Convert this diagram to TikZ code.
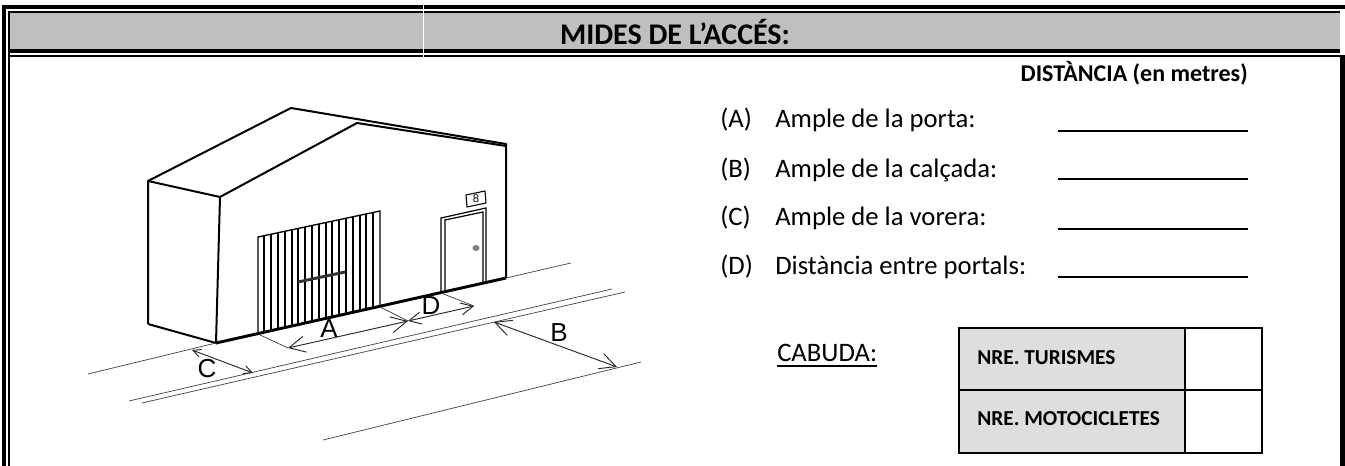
\documentclass[tikz,border=0pt]{standalone}
\usepackage{xcolor}
\usepackage{fontspec}
\setmainfont{Carlito}
\newfontfamily\plainfont{Liberation Sans}
\usepackage{tikz}
\usetikzlibrary{arrows.meta}
\definecolor{bandgray}{RGB}{191,191,191}
\definecolor{cellgray}{RGB}{222,222,222}
\definecolor{thingray}{RGB}{70,70,70}
\tikzset{
  wall/.style={line width=1.5pt},
  road/.style={draw=thingray,line width=0.55pt},
  dimline/.style={draw=black!85,line width=0.7pt,{Straight Barb[length=#1,width=#1]}-{Straight Barb[length=#1,width=#1]}},
  extline/.style={draw=thingray,line width=0.55pt},
  letter/.style={inner sep=0pt,font=\plainfont\fontsize{19.5}{21}\selectfont},
  formtext/.style={anchor=west,inner sep=0pt,font=\fontsize{20}{22}\selectfont},
  celltext/.style={anchor=west,inner sep=0pt,font=\bfseries\fontsize{16}{18}\selectfont},
}
\begin{document}
\begin{tikzpicture}[x=0.75pt,y=0.75pt,yscale=-1,xscale=1]
        \useasboundingbox (0,0) rectangle (1345,466);
        % frame
        \fill [bandgray] (10,13) rectangle (1340,49);
        \fill (2,5) rectangle (1345,9);
        \fill (2,5) rectangle (6,466);
        \fill (8,11) rectangle (1340,13);
        \fill (8,11) rectangle (10,466);
        \fill (8,49) rectangle (1340,53);
        \fill (8,55) rectangle (1345,57);
        \fill (1340,55) rectangle (1345,466);
        \fill [white] (423,5) rectangle (424,57);
        \node (title) [inner sep=0pt,font=\bfseries\fontsize{22.5}{24}\selectfont] at (675,32) {MIDES DE L’ACCÉS:};
        % building
        \draw [wall,line join=round] (148,324) -- (148,181) -- (291,108) -- (506,144) -- (506,278);
        \draw [wall,line join=round] (148,181) -- (220,197) -- (357,123) -- (506,146);
        \draw [wall] (220,197) -- (216,343) -- (148,324);
        \draw [line width=2.2pt] (216,343) -- (506,278);
        % gate
        \draw [line width=1pt] (258,332) -- (258,237) -- (380,211) -- (380,307);
        \foreach \gx in {264,271,278,285,292,298,305,312,319,326,332,339,346,353,360,366,373}
          \draw [line width=0.9pt] (\gx,{237-(\gx-258)*26/122}) -- (\gx,{332-(\gx-258)*25/122});
        \draw [line width=2.2pt,black!80] (298,282) -- (345,272);
        % door
        \draw [line width=0.9pt] (441,291) -- (441,218) -- (486,208) -- (486,281);
        \draw [line width=0.9pt] (445,290) -- (445,220) -- (483,212) -- (483,282);
        \draw [line width=0.8pt] (466,195) -- (485,191) -- (486,203) -- (467,207) -- cycle;
        \node (number) [inner sep=0pt,font=\plainfont\fontsize{8.5}{9}\selectfont] at (476,199) {8};
        \fill [black!50] (476,248) ellipse (3.5 and 3);
        % road
        \draw [road] (88,374) -- (216,343);
        \draw [road] (506,278) -- (571,263);
        \draw [road] (129,401) -- (612,289);
        \draw [road] (142,403) -- (625,292);
        \draw [road] (323,440) -- (641,362);
        % dimensions
        \coordinate (cA) at (192,350);
        \coordinate (cB) at (253,373);
        \coordinate (aA) at (288,348);
        \coordinate (aB) at (408,321);
        \coordinate (dB) at (474,306);
        \coordinate (bA) at (494,322);
        \coordinate (bB) at (617,367);
        \draw [extline] (260,335) -- (aA);
        \draw [extline] (380,307) -- (aB);
        \draw [extline] (441,293) -- (dB);
        \draw [dimline=6pt] (cA) -- (cB);
        \draw [dimline=12pt] (aA) -- (aB);
        \draw [dimline=9pt] (aB) -- (dB);
        \draw [dimline=12pt] (bA) -- (bB);
        \node (labA) [letter] at (329,329) {A};
        \node (labB) [letter] at (559,333) {B};
        \node (labC) [letter] at (207,369) {C};
        \node (labD) [letter] at (431,306) {D};
        % form
        \node (distance) [anchor=east,inner sep=0pt,font=\bfseries\fontsize{18}{20}\selectfont] at (1248,73) {DISTÀNCIA (en metres)};
        \foreach \ly/\lt/\lk/\ty in {120/Ample de la porta:/A/131,170/Ample de la calçada:/B/179,218/Ample de la vorera:/C/229,267/Distància entre portals:/D/277}{
          \node (form\lk) [formtext] at (720,\ly) {(\lk)};
          \node (text\lk) [formtext] at (775,\ly) {\lt};
          \draw [line width=1pt] (1058,\ty) -- (1248,\ty);
        }
        \node (cabuda) [formtext] at (777,353) {CABUDA:};
        \draw [line width=0.9pt] (777,366) -- (877,366);
        % table
        \fill [cellgray] (959,328) rectangle (1185,453);
        \draw [line width=1.5pt] (959,328) rectangle (1262,453);
        \draw [line width=1.5pt] (1185,328) -- (1185,453);
        \draw [line width=1.5pt] (959,390) -- (1262,390);
        \node (turismes) [celltext] at (977,358) {NRE. TURISMES};
        \node (motos) [celltext] at (977,419) {NRE. MOTOCICLETES};
    \end{tikzpicture}
\end{document}
